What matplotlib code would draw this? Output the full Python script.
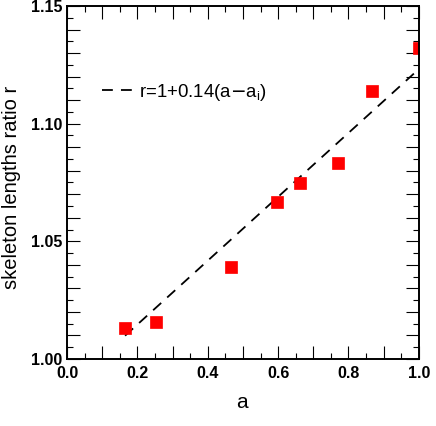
import numpy as np
import matplotlib
matplotlib.use('Agg')
import matplotlib.pyplot as plt
from matplotlib.ticker import MultipleLocator, FuncFormatter

# measured points
a = [0.165, 0.253, 0.466, 0.598, 0.662, 0.771, 0.867, 1.0]
r = [1.0133, 1.0156, 1.0392, 1.0666, 1.0747, 1.0832, 1.1139, 1.132]

# fitted line end points
line_a = [0.165, 1.0]
line_r = [1.0099, 1.1232]

plt.rcParams['font.family'] = ['Liberation Sans', 'DejaVu Sans']

fig = plt.figure(figsize=(4.36, 4.26), dpi=100)
ax = fig.add_axes([0.1537, 0.1573, 0.807, 0.8286])

ax.plot(line_a, line_r, 'k--', lw=1.3, dashes=(6, 4.5), label=r'r=1+0.14(a$-$a$_\mathregular{i}$)')
ax.plot(a, r, 's', color='red', ms=8.4, mec='red', mew=0.5)

ax.set_xlim(0, 1)
ax.set_ylim(1.0, 1.15)

# long ticks every 0.1 / 0.01, labels only every 0.2 / 0.05
ax.xaxis.set_major_locator(MultipleLocator(0.1))
ax.xaxis.set_minor_locator(MultipleLocator(0.05))
ax.yaxis.set_major_locator(MultipleLocator(0.01))
ax.yaxis.set_minor_locator(MultipleLocator(0.005))

def xfmt(v, pos):
    k = round(v / 0.1)
    return '%.1f' % v if k % 2 == 0 else ''

def yfmt(v, pos):
    k = round((v - 1.0) / 0.01)
    return '%.2f' % v if k % 5 == 0 else ''

ax.xaxis.set_major_formatter(FuncFormatter(xfmt))
ax.yaxis.set_major_formatter(FuncFormatter(yfmt))

ax.tick_params(which='both', direction='in', top=True, right=True, width=0.8)
ax.tick_params(which='major', length=9.5, labelsize=11.5)
ax.tick_params(axis='x', which='major', pad=5)
ax.tick_params(axis='y', which='major', pad=3.5)
ax.tick_params(which='minor', length=4)
for lab in ax.get_xticklabels() + ax.get_yticklabels():
    lab.set_fontweight('bold')

for s in ax.spines.values():
    s.set_linewidth(1.4)

ax.set_xlabel('a', fontsize=15)
ax.set_ylabel('skeleton lengths ratio r', fontsize=14.5)
ax.xaxis.set_label_coords(0.497, -0.097)
ax.yaxis.set_label_coords(-0.131, 0.486)

ax.legend(loc='center left', bbox_to_anchor=(0.099, 0.756), frameon=False,
          fontsize=13.4, handlelength=1.78, handletextpad=0.2,
          borderpad=0, borderaxespad=0)

fig.savefig('out.png', dpi=100)
